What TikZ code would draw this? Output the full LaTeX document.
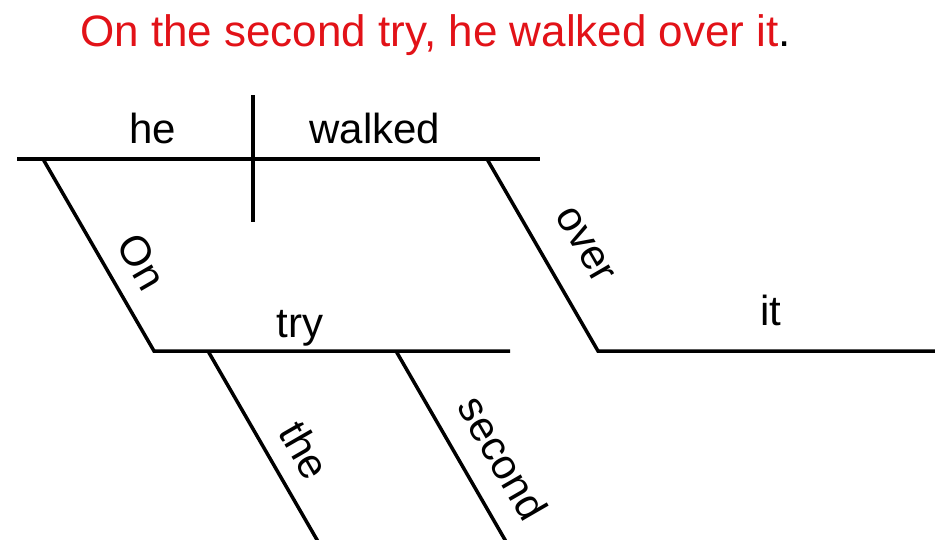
\documentclass[tikz,border=0pt]{standalone}
\usepackage{fontspec}
\setmainfont{Liberation Sans}
\definecolor{titlered}{RGB}{226,18,24}
\begin{document}
\begin{tikzpicture}[x=1pt,y=-1pt,
  diagline/.style={line width=3.5pt, black},
  lbl/.style={font=\fontsize{42}{50}\selectfont, inner sep=0pt},
  slantlbl/.style={lbl, rotate=-60, anchor=center}]
\useasboundingbox (0,0) rectangle (935,539);
% title
\node[font=\fontsize{44}{52}\selectfont, inner sep=0pt, anchor=base west] (title) at (80,46)
  {\textcolor{titlered}{On the second try, he walked over it}.};
% coordinates
\coordinate (baseL) at (17,159);
\coordinate (baseR) at (540,159);
\coordinate (divT) at (253,95);
\coordinate (divB) at (253,222);
\coordinate (onA) at (43,159);
\coordinate (onB) at (154,351);
\coordinate (tryR) at (510,351);
\coordinate (theA) at (208,351);
\coordinate (theB) at (320,545);
\coordinate (secA) at (396,351);
\coordinate (secB) at (508,545);
\coordinate (overA) at (487,159);
\coordinate (overB) at (598,351);
\coordinate (itR) at (940,351);
% lines
\draw[diagline] (baseL) -- (baseR);
\draw[diagline] (divT) -- (divB);
\draw[diagline] (onA) -- (onB) -- (tryR);
\draw[diagline] (theA) -- (theB);
\draw[diagline] (secA) -- (secB);
\draw[diagline] (overA) -- (overB) -- (itR);
% labels
\node[lbl, anchor=base] (he) at (153,143) {he};
\node[lbl, anchor=base] (walked) at (375,143) {walked};
\node[lbl, anchor=base] (try) at (300,337) {try};
\node[lbl, anchor=base] (it) at (771,325) {it};
\node[slantlbl] (on) at (142,262) {On};
\node[slantlbl] (the) at (305,450) {the};
\node[slantlbl] (second) at (503,458) {second};
\node[slantlbl] (over) at (585,245) {over};
\end{tikzpicture}
\end{document}
